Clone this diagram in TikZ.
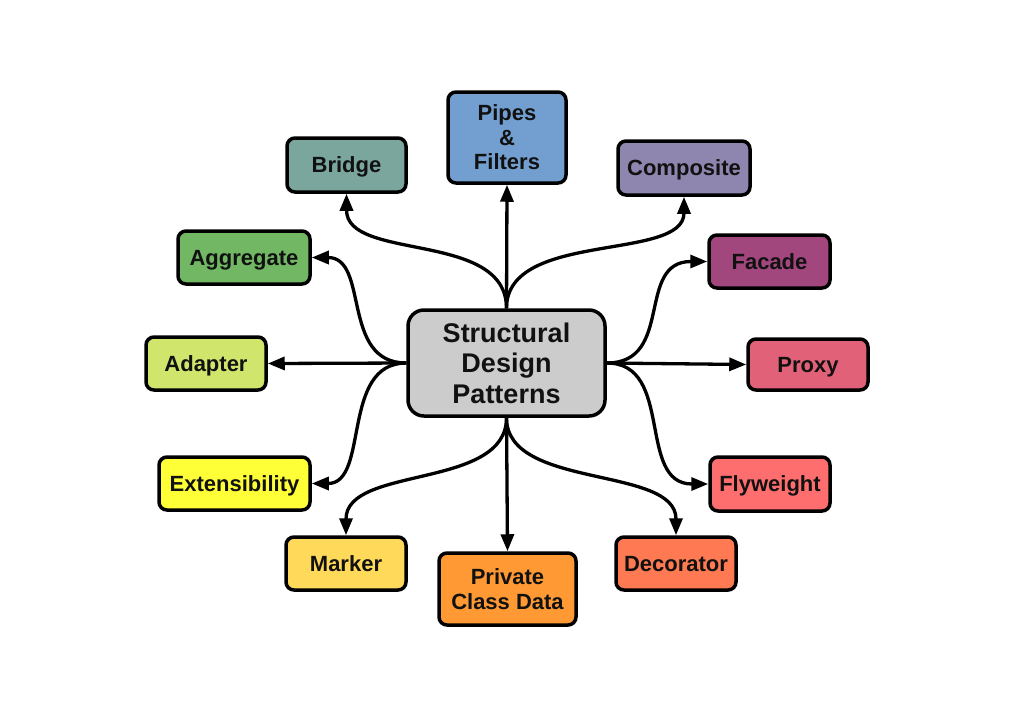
\documentclass[tikz,border=0pt]{standalone}
\usepackage{fontspec}
\setmainfont{Liberation Sans}
\usetikzlibrary{arrows.meta}
\definecolor{cBridge}{HTML}{7AA69D}
\definecolor{cPipes}{HTML}{729FCF}
\definecolor{cComp}{HTML}{8E86AE}
\definecolor{cAggr}{HTML}{72B763}
\definecolor{cAdapt}{HTML}{D0E56C}
\definecolor{cExt}{HTML}{FFFF38}
\definecolor{cMarker}{HTML}{FFD95A}
\definecolor{cPCD}{HTML}{FF9933}
\definecolor{cDeco}{HTML}{FF7A52}
\definecolor{cFly}{HTML}{FF6E6E}
\definecolor{cProxy}{HTML}{E16178}
\definecolor{cFacade}{HTML}{A2467E}
\definecolor{cCenter}{HTML}{CCCCCC}
\definecolor{cText}{HTML}{111111}
\begin{document}
\begin{tikzpicture}[x=1pt,y=-1pt,
  box/.style={draw=black, line width=3.5pt, rounded corners=8pt, align=center,
    inner sep=0pt, text depth=0pt, text=cText, font=\fontsize{22}{24.5}\selectfont\bfseries},
  link/.style={line width=3.3pt, -{Triangle[length=17pt,width=13pt]}},
]
\useasboundingbox[fill=white] (0,0) rectangle (1024,724);

\node[box, fill=cCenter, rounded corners=16pt, minimum width=197pt, minimum height=106pt,
  font=\fontsize{27}{30.5}\selectfont\bfseries] (c) at (506.5,363) {Structural\\Design\\Patterns};

\node[box, fill=cPipes, minimum width=118pt, minimum height=91pt] (pipes) at (507,137.5) {Pipes\\\&\\Filters};
\node[box, fill=cBridge, minimum width=119pt, minimum height=54pt] (bridge) at (346.5,165) {Bridge};
\node[box, fill=cComp, minimum width=132pt, minimum height=54pt] (comp) at (684,168) {Composite};
\node[box, fill=cAggr, minimum width=132pt, minimum height=53pt] (aggr) at (244,257.5) {Aggregate};
\node[box, fill=cAdapt, minimum width=120pt, minimum height=53pt] (adapt) at (206,363.5) {Adapter};
\node[box, fill=cExt, minimum width=151pt, minimum height=53pt] (ext) at (234.5,483.5) {Extensibility};
\node[box, fill=cMarker, minimum width=120pt, minimum height=53pt] (marker) at (346,563.5) {Marker};
\node[box, fill=cPCD, minimum width=137pt, minimum height=72pt] (pcd) at (507.5,589) {Private\\Class Data};
\node[box, fill=cFacade, minimum width=121pt, minimum height=53pt] (facade) at (769.5,261.5) {Facade};
\node[box, fill=cProxy, minimum width=120pt, minimum height=51pt] (proxy) at (808,364.5) {Proxy};
\node[box, fill=cFly, minimum width=120pt, minimum height=54pt] (fly) at (770,484) {Flyweight};
\node[box, fill=cDeco, minimum width=120pt, minimum height=53pt] (deco) at (676,563.5) {Decorator};

% top
\draw[link] (c.north) -- (pipes.south);
\draw[link] (c.north) .. controls +(0,-78) and +(0,68) .. (bridge.south);
\draw[link] (c.north) .. controls +(0,-78) and +(0,65) .. (comp.south);
% left
\draw[link] (c.west) -- (adapt.east);
\draw[link] (c.west) .. controls +(-66,0) and +(58,0) .. (aggr.east);
\draw[link] (c.west) .. controls +(-66,0) and +(58,0) .. (ext.east);
% bottom
\draw[link] (c.south) -- (pcd.north);
\draw[link] (c.south) .. controls +(0,72) and +(0,-70) .. (marker.north);
\draw[link] (c.south) .. controls +(0,72) and +(0,-70) .. (deco.north);
% right
\draw[link] (c.east) -- (proxy.west);
\draw[link] (c.east) .. controls +(68,0) and +(-72,0) .. (facade.west);
\draw[link] (c.east) .. controls +(68,0) and +(-72,0) .. (fly.west);
\end{tikzpicture}
\end{document}
